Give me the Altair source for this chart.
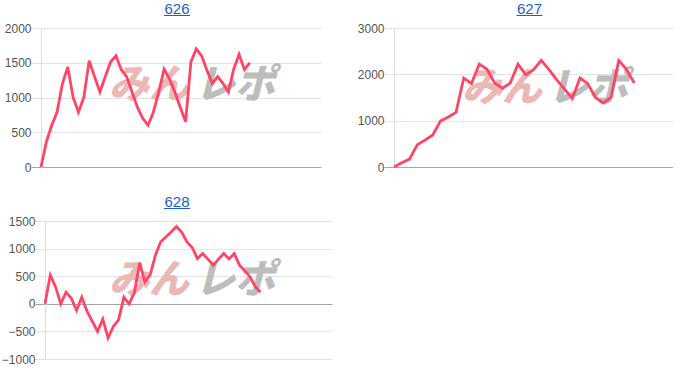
import altair as alt
import pandas as pd

# ---- data ----
titles = ["626", "627", "628"]

v626 = [0, 360, 600, 790, 1200, 1440, 1000, 790, 1000, 1530, 1300, 1080, 1300, 1510,
        1600, 1400, 1300, 1080, 860, 700, 600, 790, 1080, 1410, 1270, 1080, 860, 650,
        1510, 1700, 1600, 1390, 1200, 1300, 1200, 1080, 1410, 1620, 1400, 1500]

v627 = [0, 90, 170, 480, 580, 690, 990, 1080, 1180, 1920, 1800, 2220, 2110, 1810,
        1700, 1810, 2220, 1990, 2100, 2300, 2100, 1880, 1680, 1480, 1920, 1800, 1500,
        1380, 1500, 2300, 2110, 1810]

v628 = [0, 520, 310, 0, 210, 100, -120, 120, -140, -320, -500, -280, -620, -410,
        -290, 120, 0, 200, 740, 400, 520, 880, 1120, 1210, 1300, 1400, 1300, 1120,
        1020, 820, 910, 810, 700, 810, 910, 810, 910, 700, 600, 490, 310, 210]

ticks626 = [0, 500, 1000, 1500, 2000]
ticks627 = [0, 1000, 2000, 3000]
ticks628 = [-1000, -500, 0, 500, 1000, 1500]

watermark_red = "みん"
watermark_gray = "レポ"

LINE = "#ff4466"
FONT = "Liberation Sans"


def panel(title, values, ticks, xmax, width, height, title_x, wm_y, inset=0):
    df = pd.DataFrame({"i": list(range(len(values))), "v": values})
    ymin, ymax = min(ticks), max(ticks)
    axis_kw = dict(
        values=ticks, title=None, format="d", labelFont=FONT, labelFontSize=12,
        labelColor="#555555", labelPadding=0, tickSize=10,
        tickColor={"condition": {"test": "datum.value === 0", "value": "#a6a6a6"},
                   "value": "#e3e3e3"},
        gridColor={"condition": {"test": "datum.value === 0", "value": "#a6a6a6"},
                   "value": "#e3e3e3"},
        gridWidth=1, domainColor="#dcdcdc", domainWidth=1,
    )
    if inset:
        axis_kw["offset"] = -inset
    yaxis = alt.Axis(**axis_kw)
    x = alt.X("i:Q", scale=alt.Scale(domain=[0, xmax], range=[inset, width],
                                     nice=False, zero=False), axis=None)
    y = alt.Y("v:Q", scale=alt.Scale(domain=[ymin, ymax], nice=False, zero=False), axis=yaxis)

    wm = pd.DataFrame({"t": [watermark_red], "g": [watermark_gray]})
    red = alt.Chart(wm).mark_text(
        font="Noto Sans CJK JP", fontSize=40, fontWeight=900, fontStyle="italic",
        color="#ebb8b8", align="center", baseline="middle"
    ).encode(text="t:N", x=alt.value(108), y=alt.value(wm_y))
    gray = alt.Chart(wm).mark_text(
        font="Noto Sans CJK JP", fontSize=40, fontWeight=900, fontStyle="italic",
        color="#bdbdbd", align="center", baseline="middle"
    ).encode(text="g:N", x=alt.value(194), y=alt.value(wm_y))

    line = alt.Chart(df).mark_line(color=LINE, strokeWidth=2.8).encode(x=x, y=y)

    tdf = pd.DataFrame({"t": [title]})
    ttl = alt.Chart(tdf).mark_text(
        font=FONT, fontSize=15, color="#1a5fc8", align="center", baseline="alphabetic"
    ).encode(text="t:N", x=alt.value(title_x), y=alt.value(-14))
    ul = alt.Chart(tdf).mark_rule(color="#1a5fc8", strokeWidth=1).encode(
        x=alt.value(title_x - 13), x2=alt.value(title_x + 13), y=alt.value(-12.5))

    return alt.layer(red, gray, line, ttl, ul).properties(width=width, height=height)


p1 = panel(titles[0], v626, ticks626, 52.3, 280, 139, 136, 58)
p2 = panel(titles[1], v627, ticks627, 36.0, 279, 139, 135.5, 61)
p3 = panel(titles[2], v628, ticks628, 54.6, 291, 138, 136, 60, inset=4)

chart = alt.vconcat(
    alt.hconcat(p1, p2, spacing=36),
    alt.hconcat(p3),
    spacing=22,
).properties(
    padding={"left": 1, "top": 2, "right": 0, "bottom": 0},
    background="white",
).configure_view(stroke=None)

chart.save("out.html", embed_options={"renderer": "svg", "actions": False})
